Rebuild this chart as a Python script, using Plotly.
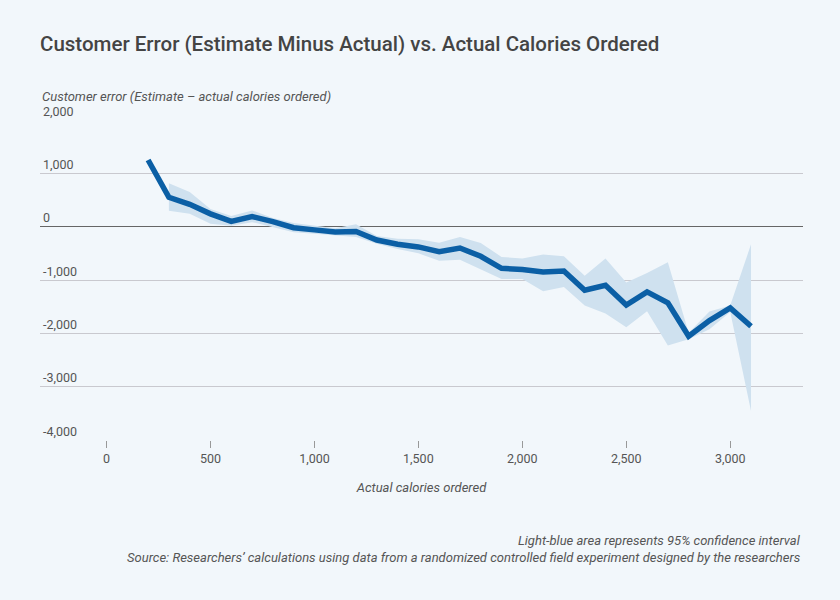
import plotly.graph_objects as go

calories = [200, 300, 400, 500, 600, 700, 800, 900, 1000, 1100, 1200, 1300, 1400, 1500,
            1600, 1700, 1800, 1900, 2000, 2100, 2200, 2300, 2400, 2500, 2600, 2700,
            2800, 2900, 3000, 3100]
error = [1250, 550, 420, 240, 100, 190, 95, -20, -60, -100, -92, -250, -330, -380,
         -468, -400, -556, -780, -805, -849, -830, -1192, -1099, -1468, -1223, -1429,
         -2054, -1760, -1523, -1867]

ci_x = [300, 400, 500, 600, 700, 800, 900, 1000, 1100, 1200, 1300, 1400, 1500,
        1600, 1700, 1800, 1900, 2000, 2100, 2200, 2300, 2400, 2500, 2600, 2700,
        2800, 2900, 3000, 3100]
ci_upper = [815, 650, 330, 200, 305, 162, 69, 19, -31, 43, -175, -225, -237,
            -300, -193, -306, -568, -595, -524, -556, -918, -599, -1045, -868, -668,
            -1990, -1590, -1480, -330]
ci_lower = [300, 240, 56, 19, 85, -6, -106, -131, -169, -193, -320, -418, -500,
            -640, -618, -805, -980, -980, -1211, -1129, -1479, -1629, -1888, -1586, -2228,
            -2110, -1925, -1600, -3458]

y_ticks = [2000, 1000, 0, -1000, -2000, -3000, -4000]
y_tick_labels = ["2,000", "1,000", "0", "-1,000", "-2,000", "-3,000", "-4,000"]
x_ticks = [0, 500, 1000, 1500, 2000, 2500, 3000]
x_tick_labels = ["0", "500", "1,000", "1,500", "2,000", "2,500", "3,000"]

FONT = "Roboto, sans-serif"
BG = "#f2f7fb"

fig = go.Figure()
fig.add_trace(go.Scatter(x=ci_x, y=ci_lower, mode="lines", line=dict(width=0),
                         hoverinfo="skip", showlegend=False))
fig.add_trace(go.Scatter(x=ci_x, y=ci_upper, mode="lines", line=dict(width=0),
                         fill="tonexty", fillcolor="#cfe1ef",
                         hoverinfo="skip", showlegend=False))
fig.add_trace(go.Scatter(x=calories, y=error, mode="lines",
                         line=dict(color="#0b5fa5", width=5.5),
                         showlegend=False))

fig.update_layout(
    width=840, height=600,
    paper_bgcolor=BG, plot_bgcolor=BG,
    margin=dict(l=40, r=37, t=120, b=160),
    font=dict(family=FONT, color="#555555", size=12.5),
    title=dict(text="Customer Error (Estimate Minus Actual) vs. Actual Calories Ordered",
               x=40/840, xanchor="left", y=1 - 44/600, yanchor="middle",
               font=dict(family=FONT, size=20.5, color="#444444", weight=500)),
    xaxis=dict(range=[-320, 3350], tickvals=x_ticks, ticktext=x_tick_labels,
               showgrid=False, zeroline=False, showline=False,
               ticks="outside", ticklen=7, tickcolor="#999999", tickwidth=1,
               tickfont=dict(size=12.5, color="#555555"),
               title=dict(text="<i>Actual calories ordered</i>", standoff=17,
                          font=dict(size=13, color="#555555"))),
    yaxis=dict(range=[-4000, 2000], tickvals=y_ticks, ticktext=y_tick_labels,
               showgrid=True, gridcolor="#c9c9cf", gridwidth=1,
               zeroline=True, zerolinecolor="#666666", zerolinewidth=1,
               showline=False, ticks="",
               ticklabelposition="inside top", ticklabeloverflow="allow",
               tickfont=dict(size=12.5, color="#555555")),
    annotations=[
        dict(text="<i>Customer error (Estimate – actual calories ordered)</i>",
             xref="paper", yref="paper", x=0, y=1 + 24/320, xanchor="left", yanchor="middle",
             showarrow=False, font=dict(size=13, color="#555555")),
        dict(text="<i>Light-blue area represents 95% confidence interval</i>",
             xref="paper", yref="paper", x=1, y=-100/320, xanchor="right", yanchor="middle",
             showarrow=False, font=dict(size=13, color="#555555")),
        dict(text="<i>Source: Researchers’ calculations using data from a randomized controlled field experiment designed by the researchers</i>",
             xref="paper", yref="paper", x=1, y=-117/320, xanchor="right", yanchor="middle",
             showarrow=False, font=dict(size=13, color="#555555")),
    ],
)

fig.write_html("out.html", config={"displayModeBar": False},
               post_script="document.body.style.margin='0';document.body.style.background='#f2f7fb';")
